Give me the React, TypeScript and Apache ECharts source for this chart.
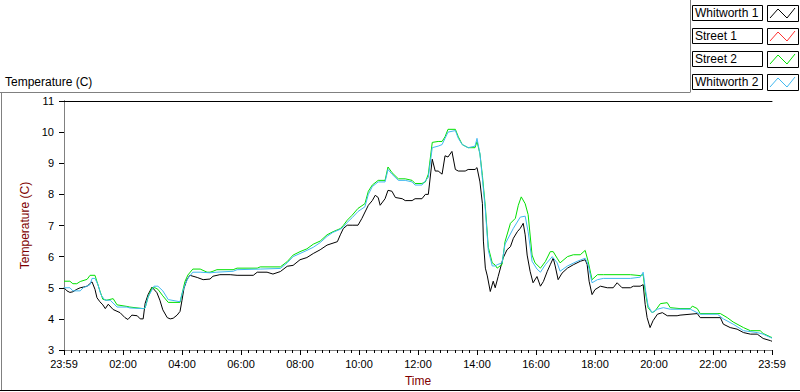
import React, { useEffect, useRef } from "react";
import * as echarts from "echarts";

// Minutes after 23:59 (axis 0 .. 1440)
const X_TICK_LABELS = ["23:59", "02:00", "04:00", "06:00", "08:00", "10:00", "12:00", "14:00", "16:00", "18:00", "20:00", "22:00", "23:59"];
const Y_MIN = 3;
const Y_MAX = 11;
const SERIES_NAMES = ["Whitworth 1", "Street 1", "Street 2", "Whitworth 2"];
const SERIES_COLORS = ["#000000", "#ff3030", "#00e000", "#40b8f0"];

const T_W1 = [0, 6, 12, 18, 26, 33, 39, 47, 57, 63, 67, 73, 79, 84, 90, 100, 114, 124, 130, 138, 149, 155, 161, 165, 171, 179, 189, 195, 201, 210, 216, 222, 230, 236, 240, 244, 250, 256, 271, 283, 297, 303, 317, 338, 352, 385, 393, 413, 425, 440, 454, 466, 480, 494, 507, 521, 535, 556, 562, 568, 576, 586, 598, 606, 619, 627, 633, 639, 643, 653, 659, 667, 674, 688, 694, 708, 714, 728, 735, 741, 749, 755, 761, 769, 775, 781, 789, 796, 802, 816, 822, 836, 840, 846, 851, 853, 857, 861, 867, 873, 877, 883, 893, 901, 908, 914, 922, 928, 934, 938, 942, 948, 954, 962, 969, 975, 983, 989, 995, 999, 1005, 1013, 1024, 1036, 1050, 1060, 1064, 1068, 1074, 1080, 1091, 1105, 1117, 1125, 1135, 1152, 1158, 1172, 1178, 1182, 1186, 1192, 1198, 1207, 1217, 1227, 1247, 1253, 1288, 1294, 1335, 1341, 1355, 1369, 1382, 1396, 1410, 1422, 1437, 1440];
const V_W1 = [5.0, 4.9, 4.85, 4.87, 4.95, 5.0, 5.02, 5.05, 5.19, 4.95, 4.68, 4.55, 4.45, 4.33, 4.47, 4.3, 4.2, 4.04, 3.98, 4.12, 4.1, 4.0, 4.0, 4.5, 4.78, 5.02, 4.84, 4.6, 4.29, 4.04, 4.0, 4.02, 4.12, 4.24, 4.6, 4.98, 5.26, 5.4, 5.33, 5.26, 5.28, 5.37, 5.42, 5.42, 5.4, 5.4, 5.5, 5.5, 5.44, 5.52, 5.69, 5.72, 5.9, 5.97, 6.1, 6.22, 6.37, 6.48, 6.7, 6.9, 7.01, 7.01, 7.01, 7.23, 7.65, 7.8, 7.97, 7.9, 7.65, 7.86, 8.13, 8.1, 7.9, 7.86, 7.8, 7.8, 7.86, 7.86, 8.0, 8.0, 9.13, 8.75, 8.75, 8.65, 9.24, 9.2, 9.38, 8.8, 8.75, 8.75, 8.8, 8.8, 8.86, 8.4, 7.7, 6.5, 5.63, 5.38, 4.88, 5.21, 5.0, 5.36, 5.95, 6.22, 6.32, 6.59, 6.8, 6.91, 7.07, 6.7, 6.05, 5.53, 5.16, 5.36, 5.05, 5.2, 5.53, 5.74, 5.95, 5.7, 5.26, 5.47, 5.63, 5.74, 5.85, 5.9, 5.75, 5.21, 4.78, 4.94, 5.05, 5.0, 5.0, 5.16, 5.0, 5.0, 5.05, 5.05, 5.1, 4.47, 4.04, 3.72, 3.94, 4.15, 4.2, 4.1, 4.1, 4.12, 4.17, 4.04, 4.04, 3.83, 3.72, 3.67, 3.56, 3.51, 3.51, 3.37, 3.3, 3.28];

const T_S1: number[] = [];
const V_S1: number[] = [];

const T_S2 = [0, 12, 18, 26, 33, 47, 53, 63, 67, 73, 79, 87, 100, 108, 128, 134, 161, 165, 171, 179, 185, 191, 201, 212, 236, 240, 246, 252, 262, 277, 291, 297, 303, 311, 344, 352, 393, 399, 440, 454, 466, 480, 494, 507, 521, 535, 547, 562, 568, 576, 586, 598, 612, 619, 627, 639, 653, 659, 667, 680, 694, 708, 714, 728, 735, 741, 749, 761, 769, 775, 781, 796, 802, 810, 822, 836, 840, 846, 851, 857, 863, 871, 877, 881, 891, 897, 908, 918, 924, 930, 938, 944, 952, 958, 969, 979, 989, 995, 1003, 1009, 1024, 1036, 1050, 1060, 1066, 1074, 1085, 1097, 1152, 1172, 1178, 1182, 1188, 1196, 1202, 1213, 1227, 1233, 1253, 1274, 1278, 1288, 1294, 1335, 1349, 1361, 1382, 1396, 1416, 1422, 1437, 1440];
const V_S2 = [5.21, 5.21, 5.13, 5.13, 5.2, 5.27, 5.4, 5.4, 5.2, 4.9, 4.63, 4.6, 4.65, 4.45, 4.4, 4.38, 4.33, 4.35, 4.7, 5.0, 5.0, 4.95, 4.74, 4.53, 4.53, 4.8, 5.2, 5.41, 5.6, 5.6, 5.5, 5.5, 5.53, 5.58, 5.58, 5.63, 5.63, 5.67, 5.67, 5.84, 6.05, 6.16, 6.25, 6.4, 6.5, 6.7, 6.8, 6.9, 7.0, 7.17, 7.33, 7.55, 7.7, 8.1, 8.3, 8.45, 8.45, 8.88, 8.7, 8.5, 8.5, 8.45, 8.35, 8.35, 8.4, 8.65, 9.67, 9.7, 9.7, 9.85, 10.09, 10.09, 9.85, 9.6, 9.5, 9.5, 9.7, 9.3, 8.6, 7.6, 6.3, 5.8, 5.73, 5.63, 5.75, 6.48, 7.07, 7.23, 7.65, 7.92, 7.7, 7.35, 6.05, 5.8, 5.63, 5.84, 6.16, 6.16, 5.95, 5.8, 6.0, 6.06, 6.06, 6.2, 5.85, 5.26, 5.42, 5.42, 5.42, 5.39, 5.42, 4.89, 4.36, 4.2, 4.25, 4.49, 4.52, 4.36, 4.33, 4.33, 4.41, 4.33, 4.17, 4.17, 4.04, 3.9, 3.72, 3.62, 3.62, 3.53, 3.42, 3.4];

const T_W2 = [0, 12, 18, 33, 39, 53, 57, 63, 69, 75, 83, 94, 108, 128, 134, 161, 165, 171, 183, 191, 201, 212, 236, 240, 246, 252, 262, 277, 297, 311, 344, 352, 399, 440, 454, 466, 480, 494, 507, 521, 535, 547, 562, 568, 576, 586, 598, 612, 619, 627, 639, 653, 659, 667, 680, 694, 708, 714, 728, 741, 749, 761, 769, 775, 781, 796, 802, 810, 822, 836, 840, 846, 851, 857, 863, 871, 877, 881, 891, 897, 914, 928, 938, 944, 952, 962, 969, 979, 993, 1003, 1009, 1024, 1044, 1060, 1066, 1074, 1085, 1097, 1152, 1172, 1178, 1182, 1188, 1196, 1207, 1219, 1233, 1274, 1294, 1329, 1341, 1361, 1382, 1410, 1422, 1437, 1440];
const V_W2 = [5.0, 5.0, 4.9, 4.9, 5.0, 5.1, 5.3, 5.3, 5.1, 4.78, 4.6, 4.6, 4.38, 4.38, 4.35, 4.33, 4.35, 4.7, 5.05, 5.05, 4.9, 4.62, 4.55, 4.8, 5.1, 5.3, 5.5, 5.5, 5.48, 5.5, 5.53, 5.58, 5.6, 5.62, 5.8, 6.0, 6.1, 6.2, 6.3, 6.45, 6.65, 6.78, 6.88, 6.95, 7.1, 7.25, 7.45, 7.6, 8.0, 8.25, 8.4, 8.4, 8.8, 8.65, 8.45, 8.45, 8.4, 8.3, 8.3, 8.55, 9.5, 9.55, 9.6, 9.8, 10.0, 10.05, 9.8, 9.6, 9.5, 9.55, 9.8, 9.3, 8.5, 7.5, 6.2, 5.7, 5.7, 5.74, 5.8, 6.4, 6.91, 7.27, 7.3, 6.8, 5.85, 5.6, 5.5, 5.74, 6.0, 5.8, 5.53, 5.7, 5.85, 5.95, 5.74, 5.16, 5.26, 5.3, 5.3, 5.34, 5.5, 5.0, 4.42, 4.2, 4.31, 4.36, 4.31, 4.31, 4.15, 4.15, 4.0, 3.83, 3.62, 3.56, 3.51, 3.4, 3.38];

const SERIES_T = [T_W1, T_S1, T_S2, T_W2];
const SERIES_V = [V_W1, V_S1, V_S2, V_W2];

const FONT = "Liberation Sans";

export default function App() {
  const ref = useRef<HTMLDivElement>(null);
  useEffect(() => {
    if (!ref.current) return;
    const chart = echarts.init(ref.current, undefined, { renderer: "svg" });
    const legendGraphics: any[] = [];
    SERIES_NAMES.forEach((name, i) => {
      const y = 4.5 + i * 23.3;
      legendGraphics.push({
        type: "rect",
        shape: { x: 692.5, y: Math.round(y) + 0.5, width: 70, height: 15 },
        style: { fill: "#fff", stroke: "#000", lineWidth: 1 },
      });
      legendGraphics.push({
        type: "text",
        x: 695,
        y: Math.round(y) + 8,
        style: { text: name, fill: "#000", font: `12px ${FONT}`, verticalAlign: "middle", align: "left" },
      });
      legendGraphics.push({
        type: "rect",
        shape: { x: 767.5, y: Math.round(y) + 0.5, width: 31, height: 16 },
        style: { fill: "#fff", stroke: "#000", lineWidth: 1 },
      });
      const yy = Math.round(y);
      legendGraphics.push({
        type: "polyline",
        shape: { points: [[770, yy + 13], [778, yy + 4], [787, yy + 13], [795, yy + 3]] },
        style: { stroke: SERIES_COLORS[i], lineWidth: 1, fill: "none" },
      });
    });

    const option: any = {
      animation: false,
      backgroundColor: "#fff",
      textStyle: { fontFamily: FONT },
      grid: { left: 64, top: 101, width: 708, height: 251, containLabel: false },
      xAxis: [
        {
          type: "value",
          min: 0,
          max: 1440,
          interval: 120,
          name: "Time",
          nameLocation: "middle",
          nameGap: 25,
          nameTextStyle: { color: "#800000", fontSize: 12, fontFamily: FONT },
          axisLine: { show: true, lineStyle: { color: "#808080", width: 1 } },
          axisTick: { show: true, length: 5, lineStyle: { color: "#000" } },
          minorTick: { show: true, splitNumber: 8, length: 3, lineStyle: { color: "#000" } },
          axisLabel: {
            color: "#000",
            fontSize: 11,
            fontFamily: FONT,
            margin: 8,
            formatter: (v: number) => X_TICK_LABELS[Math.round(v / 120)] ?? "",
          },
          splitLine: { show: false },
        },
        {
          type: "value",
          position: "top",
          min: 0,
          max: 1440,
          axisLine: { show: true, lineStyle: { color: "#000", width: 1 } },
          axisTick: { show: false },
          axisLabel: { show: false },
          splitLine: { show: false },
        },
      ],
      yAxis: [
        {
          type: "value",
          min: Y_MIN,
          max: Y_MAX,
          interval: 1,
          name: "Temperature (C)",
          nameLocation: "middle",
          nameGap: 30,
          nameTextStyle: { color: "#800000", fontSize: 12, fontFamily: FONT },
          axisLine: { show: true, lineStyle: { color: "#000", width: 1 } },
          axisTick: { show: true, length: 5, lineStyle: { color: "#000" } },
          axisLabel: { color: "#000", fontSize: 11, fontFamily: FONT, margin: 10 },
          splitLine: { show: false },
        },
        {
          type: "value",
          position: "right",
          min: Y_MIN,
          max: Y_MAX,
          axisLine: { show: true, lineStyle: { color: "#808080", width: 1 } },
          axisTick: { show: false },
          axisLabel: { show: false },
          splitLine: { show: false },
        },
      ],
      series: SERIES_NAMES.map((name, i) => ({
        name,
        type: "line",
        xAxisIndex: 0,
        yAxisIndex: 0,
        showSymbol: false,
        symbol: "none",
        lineStyle: { color: SERIES_COLORS[i], width: 1 },
        itemStyle: { color: SERIES_COLORS[i] },
        data: SERIES_T[i].map((t, k) => [t, SERIES_V[i][k]]),
      })),
      graphic: [
        {
          type: "text",
          x: 5,
          y: 82,
          style: { text: "Temperature (C)", fill: "#000", font: `12px ${FONT}`, verticalAlign: "middle" },
        },
        { type: "line", shape: { x1: 0, y1: 92.5, x2: 690, y2: 92.5 }, style: { stroke: "#808080", lineWidth: 1 } },
        { type: "line", shape: { x1: 690.5, y1: 0, x2: 690.5, y2: 92.5 }, style: { stroke: "#808080", lineWidth: 1 } },
        { type: "line", shape: { x1: 1.5, y1: 92.5, x2: 1.5, y2: 391 }, style: { stroke: "#808080", lineWidth: 1 } },
        { type: "line", shape: { x1: 0, y1: 390.5, x2: 800, y2: 390.5 }, style: { stroke: "#000", lineWidth: 1 } },
        ...legendGraphics,
      ],
    };
    chart.setOption(option);
    return () => chart.dispose();
  }, []);
  return <div ref={ref} style={{ position: "absolute", left: 0, top: 0, width: 800, height: 392 }} />;
}
